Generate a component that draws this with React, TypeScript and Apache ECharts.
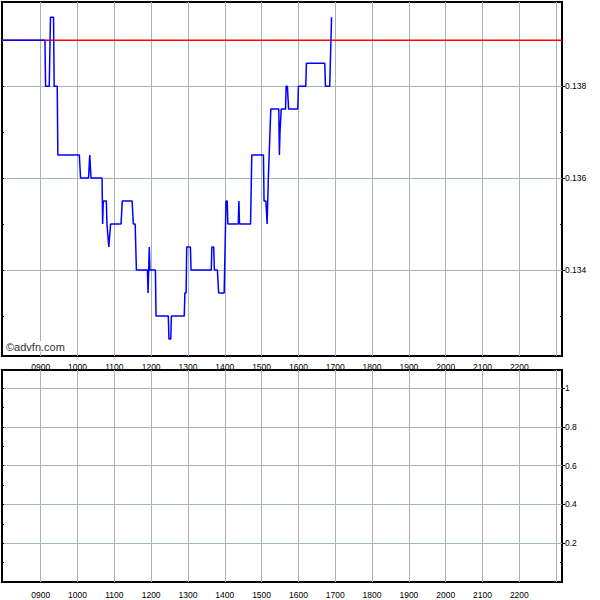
import React, { useEffect, useRef } from "react";
import * as echarts from "echarts";

// ---- data ----
const tradeTimes = [
  "07:58", "09:07", "09:08", "09:14", "09:16", "09:21", "09:22", "09:27", "09:28",
  "10:03", "10:05", "10:18", "10:20", "10:21", "10:22", "10:40", "10:41", "10:42",
  "10:47", "10:48", "10:51", "10:54", "11:11", "11:13", "11:29", "11:31", "11:34",
  "11:36", "11:54", "11:55", "11:57", "11:58", "12:07", "12:08", "12:28", "12:29",
  "12:32", "12:33", "12:54", "12:55", "12:57", "12:58", "13:04", "13:05", "13:38",
  "13:39", "13:42", "13:43", "13:48", "13:50", "13:59", "14:02", "14:04", "14:05",
  "14:22", "14:23", "14:24", "14:42", "14:44", "15:03", "15:04", "15:07", "15:09",
  "15:11", "15:12", "15:15", "15:28", "15:29", "15:30", "15:31", "15:32", "15:39",
  "15:40", "15:42", "15:44", "15:59", "16:00", "16:12", "16:13", "16:43", "16:44",
  "16:51", "16:54",
];
const tradePrices = [
  0.139, 0.139, 0.138, 0.138, 0.1395, 0.1395, 0.138, 0.138, 0.1365,
  0.1365, 0.136, 0.136, 0.1365, 0.1365, 0.136, 0.136, 0.135, 0.1355,
  0.1355, 0.135, 0.1345, 0.135, 0.135, 0.1355, 0.1355, 0.135, 0.135,
  0.134, 0.134, 0.1335, 0.1345, 0.134, 0.134, 0.133, 0.133, 0.1325,
  0.1325, 0.133, 0.133, 0.1335, 0.1335, 0.1345, 0.1345, 0.134, 0.134,
  0.1345, 0.1345, 0.134, 0.134, 0.1335, 0.1335, 0.1355, 0.1355, 0.135,
  0.135, 0.1355, 0.135, 0.135, 0.1365, 0.1365, 0.1355, 0.1355, 0.135,
  0.136, 0.136, 0.1375, 0.1375, 0.1365, 0.137, 0.137, 0.1375, 0.1375,
  0.138, 0.138, 0.1375, 0.1375, 0.138, 0.138, 0.1385, 0.1385, 0.138,
  0.138, 0.1395,
];
const previousClose = 0.139;
const volumeTimes: string[] = [];
const volumeValues: number[] = [];

const hourTicks = [
  "09:00", "10:00", "11:00", "12:00", "13:00", "14:00", "15:00", "16:00",
  "17:00", "18:00", "19:00", "20:00", "21:00", "22:00", "23:00",
];
const hourLabels = [
  "09:00", "10:00", "11:00", "12:00", "13:00", "14:00", "15:00", "16:00",
  "17:00", "18:00", "19:00", "20:00", "21:00", "22:00",
];
const timeRange = ["07:57", "23:09.5"];
const priceMajorTicks = [0.134, 0.136, 0.138];
const priceMinorTicks = [0.133, 0.135, 0.137, 0.139];
const priceRange = [0.13213, 0.13983];
const volumeMajorTicks = [0.2, 0.4, 0.6, 0.8, 1];
const volumeMinorTicks = [0.1, 0.3, 0.5, 0.7, 0.9];
const volumeRange = [0, 1.094];

// ---- helpers ----
const toMin = (s: string) => {
  const [h, m] = s.split(":");
  return Number(h) * 60 + Number(m);
};
const pad = (n: number) => (n < 10 ? "0" : "") + n;
const fmtHour = (v: number) => pad(Math.floor(v / 60)) + pad(Math.round(v % 60));

const GRID_COLOR = "#a4b6b6";
const FONT = "Liberation Sans, Arial, sans-serif";

export default function App() {
  const ref = useRef<HTMLDivElement>(null);

  useEffect(() => {
    if (!ref.current) return;
    const chart = echarts.init(ref.current, null, { renderer: "svg" });

    const xMin = toMin(timeRange[0]);
    const xMax = toMin(timeRange[1]);
    const tickMins = hourTicks.map(toMin);
    const labelMins = hourLabels.map(toMin);

    const priceData = tradeTimes.map((t, i) => [toMin(t), tradePrices[i]]);
    const closeData = [
      [xMin, previousClose],
      [xMax, previousClose],
    ];
    const volumeData = volumeTimes.map((t, i) => [toMin(t), volumeValues[i]]);

    const xAxisFor = (gridIndex: number, margin: number) => ({
      type: "value",
      gridIndex,
      min: xMin,
      max: xMax,
      position: "bottom",
      axisLine: { show: false },
      axisTick: { show: false, customValues: tickMins },
      axisLabel: {
        customValues: labelMins,
        formatter: (v: number) => fmtHour(v),
        fontSize: 8.5,
        fontFamily: FONT,
        color: "#000",
        margin,
      },
      splitLine: { show: true, lineStyle: { color: GRID_COLOR, width: 1 } },
    });

    const yAxesFor = (
      gridIndex: number,
      range: number[],
      major: number[],
      minor: number[],
      fmt: (v: number) => string
    ) => [
      {
        type: "value",
        gridIndex,
        position: "right",
        min: range[0],
        max: range[1],
        axisLine: { show: false },
        axisTick: { show: true, inside: false, length: 3, customValues: major, lineStyle: { color: "#000" } },
        axisLabel: {
          customValues: major,
          formatter: fmt,
          fontSize: 8.5,
          fontFamily: FONT,
          color: "#000",
          margin: 3,
        },
        splitLine: { show: true, lineStyle: { color: GRID_COLOR, width: 1 } },
      },
      {
        type: "value",
        gridIndex,
        position: "right",
        min: range[0],
        max: range[1],
        axisLine: { show: false },
        axisTick: { show: true, inside: true, length: 2, customValues: minor, lineStyle: { color: "#000" } },
        axisLabel: { show: false },
        splitLine: { show: false },
      },
      {
        type: "value",
        gridIndex,
        position: "left",
        min: range[0],
        max: range[1],
        axisLine: { show: false },
        axisTick: {
          show: true,
          inside: true,
          length: 2,
          customValues: [...major, ...minor],
          lineStyle: { color: "#000" },
        },
        axisLabel: { show: false },
        splitLine: { show: false },
      },
    ];

    chart.setOption({
      animation: false,
      backgroundColor: "#fff",
      grid: [
        { left: 2, right: 38, top: 2, height: 354, show: true, borderColor: "#000", borderWidth: 2, backgroundColor: "#fff" },
        { left: 2, right: 38, top: 370, height: 212, show: true, borderColor: "#000", borderWidth: 2, backgroundColor: "#fff" },
      ],
      xAxis: [xAxisFor(0, 6), xAxisFor(1, 8)],
      yAxis: [
        ...yAxesFor(0, priceRange, priceMajorTicks, priceMinorTicks, (v: number) => v.toFixed(3)),
        ...yAxesFor(1, volumeRange, volumeMajorTicks, volumeMinorTicks, (v: number) => String(Number(v.toFixed(1)))),
      ],
      graphic: [
        {
          type: "text",
          left: 5,
          top: 341,
          z: 100,
          style: {
            text: "©advfn.com",
            fontSize: 11,
            fontFamily: FONT,
            fill: "#333",
            backgroundColor: "#fff",
            padding: [0, 1, 0, 1],
          },
        },
      ],
      series: [
        {
          name: "Previous close",
          type: "line",
          xAxisIndex: 0,
          yAxisIndex: 0,
          data: closeData,
          showSymbol: false,
          z: 5,
          lineStyle: { color: "#ff0000", width: 1.5 },
        },
        {
          name: "Price",
          type: "line",
          xAxisIndex: 0,
          yAxisIndex: 0,
          data: priceData,
          showSymbol: false,
          z: 10,
          lineStyle: { color: "#0000ff", width: 1.5 },
        },
        {
          name: "Volume",
          type: "bar",
          xAxisIndex: 1,
          yAxisIndex: 3,
          data: volumeData,
        },
      ],
    });

    return () => chart.dispose();
  }, []);

  return (
    <div
      ref={ref}
      style={{ position: "fixed", left: 0, top: 0, width: 600, height: 600, background: "#fff" }}
    />
  );
}
